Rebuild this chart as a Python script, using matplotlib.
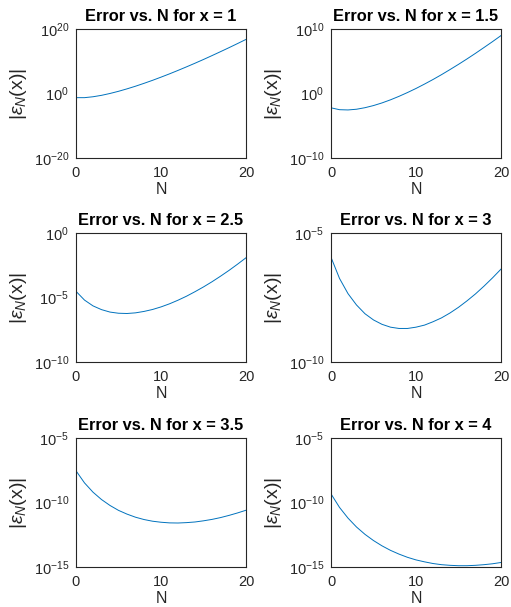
import matplotlib
matplotlib.use("Agg")
import matplotlib.pyplot as plt
import numpy as np

plt.rcParams["font.family"] = ["Liberation Sans", "DejaVu Sans"]
plt.rcParams["mathtext.fontset"] = "custom"
plt.rcParams["mathtext.rm"] = "Liberation Sans"
plt.rcParams["mathtext.it"] = "Liberation Sans:italic"

# number of terms kept in the asymptotic sum
N = list(range(0, 21))

# x values of the six panels
x_vals = ["1", "1.5", "2.5", "3", "3.5", "4"]

# log10 |eps_N(x)|, N = 0..20
log_err_x1 = [-1.29, -1.29, -1.01, -0.57, 0.01, 0.68, 1.44, 2.26, 3.15, 4.08,
              5.07, 6.09, 7.16, 8.26, 9.39, 10.55, 11.75, 12.97, 14.21, 15.48, 16.77]
log_err_x15 = [-2.22, -2.51, -2.55, -2.44, -2.20, -1.87, -1.46, -0.98, -0.44, 0.15,
               0.78, 1.46, 2.17, 2.92, 3.71, 4.52, 5.36, 6.23, 7.13, 8.04, 8.98]
log_err_x25 = [-4.52, -5.20, -5.65, -5.94, -6.13, -6.22, -6.24, -6.19, -6.08, -5.93,
               -5.73, -5.49, -5.21, -4.90, -4.55, -4.18, -3.78, -3.35, -2.90, -2.42, -1.92]
log_err_x3 = [-5.94, -6.76, -7.35, -7.79, -8.13, -8.37, -8.54, -8.65, -8.70, -8.70,
              -8.65, -8.57, -8.44, -8.29, -8.10, -7.88, -7.63, -7.36, -7.06, -6.74, -6.40]
log_err_x35 = [-7.54, -8.48, -9.20, -9.77, -10.23, -10.61, -10.90, -11.14, -11.32, -11.45,
               -11.53, -11.58, -11.59, -11.56, -11.51, -11.42, -11.31, -11.17, -11.00, -10.81, -10.60]
log_err_x4 = [-9.33, -10.38, -11.21, -11.90, -12.47, -12.95, -13.36, -13.71, -14.00, -14.25,
              -14.45, -14.60, -14.73, -14.82, -14.87, -14.90, -14.90, -14.87, -14.82, -14.75, -14.65]

# y-axis limits (decades) and tick decades per panel
y_lims = [(-20, 20), (-10, 10), (-10, 0), (-10, -5), (-15, -5), (-15, -5)]
y_ticks = [[-20, 0, 20], [-10, 0, 10], [-10, -5, 0], [-10, -5], [-15, -10, -5], [-15, -10, -5]]

series = [log_err_x1, log_err_x15, log_err_x25, log_err_x3, log_err_x35, log_err_x4]

W, H = 511, 607
fig = plt.figure(figsize=(W / 100, H / 100), dpi=100)

col_left = [76, 331]
row_top = [29, 233, 438]
ax_w, ax_h = 170, 129

grey = "#262626"
for k in range(6):
    r, c = divmod(k, 2)
    ax = fig.add_axes([col_left[c] / W, 1 - (row_top[r] + ax_h) / H, ax_w / W, ax_h / H])
    ax.semilogy(N, 10.0 ** np.array(series[k]), color="#0072BD", lw=0.7)
    lo, hi = y_lims[k]
    ax.set_ylim(10.0 ** lo, 10.0 ** hi)
    ax.set_xlim(0, 20)
    ax.set_xticks([0, 10, 20])
    ax.set_yticks([10.0 ** t for t in y_ticks[k]])
    ax.set_yticklabels([rf"$10^{{{t}}}$" for t in y_ticks[k]])
    ax.minorticks_off()
    ax.tick_params(length=0, labelsize=10.5, colors=grey)
    ax.tick_params(axis="x", pad=6)
    ax.tick_params(axis="y", pad=5)
    for s in ax.spines.values():
        s.set_color(grey)
        s.set_linewidth(0.8)
    ax.set_title(f"Error vs. N for x = {x_vals[k]}", fontsize=11.8, fontweight="bold", pad=6)
    ax.set_xlabel("N", fontsize=11.5, color=grey, labelpad=1)
    ax.set_ylabel(r"|$\epsilon_N$(x)|", fontsize=14, color=grey, labelpad=3)

fig.savefig("out.png", dpi=100)
